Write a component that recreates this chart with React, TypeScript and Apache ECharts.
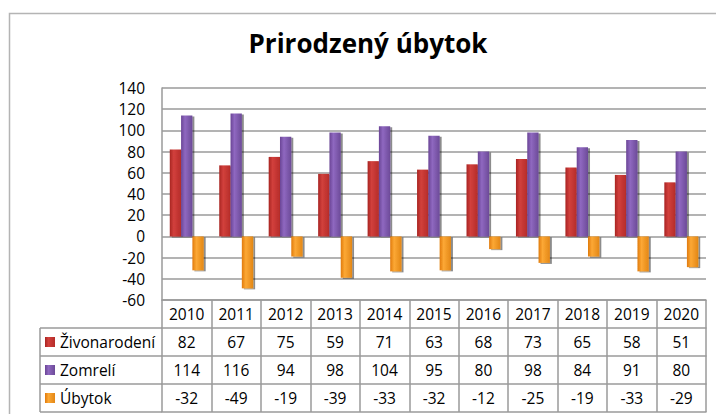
import React, { useEffect, useRef } from "react";
import * as echarts from "echarts";

const years = ["2010", "2011", "2012", "2013", "2014", "2015", "2016", "2017", "2018", "2019", "2020"];
const births = [82, 67, 75, 59, 71, 63, 68, 73, 65, 58, 51];
const deaths = [114, 116, 94, 98, 104, 95, 80, 98, 84, 91, 80];
const loss = [-32, -49, -19, -39, -33, -32, -12, -25, -19, -33, -29];
const seriesNames = ["Živonarodení", "Zomrelí", "Úbytok"];
const titleText = "Prirodzený úbytok";
const yMin = -60;
const yMax = 140;
const yStep = 20;

const FONT = "'Open Sans', 'Noto Sans', sans-serif";
const W = 716;
const H = 414;
const GRID_LEFT = 162;
const GRID_RIGHT = 10;
const GRID_TOP = 88;
const GRID_H = 212;
const ROW_H = 28;
const TABLE_LEFT = 40;
const LINE = "#9a9a9a";

const grad = (a: string, b: string, c: string) =>
  new echarts.graphic.LinearGradient(0, 0, 1, 0, [
    { offset: 0, color: a },
    { offset: 0.35, color: b },
    { offset: 1, color: c },
  ]);

const palettes = [
  ["#a82422", "#d2403c", "#b52c29"],
  ["#6a4596", "#8f68c0", "#6c4a98"],
  ["#e07a0c", "#fca835", "#e38716"],
];

export default function App() {
  const ref = useRef<HTMLDivElement>(null);
  useEffect(() => {
    if (!ref.current) return;
    const chart = echarts.init(ref.current, null, { renderer: "svg" });
    const rows = [births, deaths, loss];
    const gridBottom = GRID_TOP + GRID_H;

    const baseAxis = (offset: number, rowIdx: number | null) => ({
      type: "category",
      data: years,
      position: "bottom",
      offset,
      axisLine: { show: true, onZero: false, lineStyle: { color: LINE, width: 1.5 } },
      axisTick: { show: true, length: ROW_H, inside: false, lineStyle: { color: LINE, width: 1.5 } },
      axisLabel: {
        show: true,
        interval: 0,
        margin: 0,
        lineHeight: ROW_H,
        fontSize: 15.5,
        fontFamily: FONT,
        color: "#000",
        formatter: (v: string, i: number) => (rowIdx === null ? v : String(rows[rowIdx][i])),
      },
      splitLine: { show: false },
    });

    const xAxes: any[] = [baseAxis(0, null), baseAxis(ROW_H, 0), baseAxis(ROW_H * 2, 1), baseAxis(ROW_H * 3, 2)];
    xAxes.push({
      type: "category",
      data: years,
      position: "bottom",
      offset: ROW_H * 4,
      axisLine: { show: true, onZero: false, lineStyle: { color: LINE, width: 1.5 } },
      axisTick: { show: false },
      axisLabel: { show: false },
    });

    const graphics: any[] = [
      {
        type: "rect",
        shape: { x: 9.5, y: 13.5, width: 730, height: 430 },
        style: { fill: "none", stroke: "#b4b4b4", lineWidth: 1.5 },
        silent: true,
      },
    ];
    for (let r = 0; r < 3; r++) {
      const y0 = gridBottom + ROW_H * (r + 1);
      graphics.push({
        type: "line",
        shape: { x1: TABLE_LEFT, y1: y0, x2: GRID_LEFT, y2: y0 },
        style: { stroke: LINE, lineWidth: 1.5 },
      });
      graphics.push({
        type: "rect",
        shape: { x: TABLE_LEFT + 5, y: y0 + ROW_H / 2 - 5, width: 10, height: 10 },
        style: { fill: grad(palettes[r][0], palettes[r][1], palettes[r][2]) },
      });
      graphics.push({
        type: "text",
        x: TABLE_LEFT + 20,
        y: y0 + ROW_H / 2,
        style: {
          text: seriesNames[r],
          fontSize: 15.5,
          fontFamily: FONT,
          fill: "#000",
          textVerticalAlign: "middle",
          verticalAlign: "middle",
        },
      });
    }
    graphics.push({
      type: "line",
      shape: { x1: TABLE_LEFT, y1: gridBottom + ROW_H * 4, x2: GRID_LEFT, y2: gridBottom + ROW_H * 4 },
      style: { stroke: LINE, lineWidth: 1.5 },
    });
    graphics.push({
      type: "line",
      shape: { x1: TABLE_LEFT, y1: gridBottom + ROW_H, x2: TABLE_LEFT, y2: gridBottom + ROW_H * 4 },
      style: { stroke: LINE, lineWidth: 1.5 },
    });

    const series = rows.map((d, i) => ({
      name: seriesNames[i],
      type: "bar",
      xAxisIndex: 0,
      data: d,
      barWidth: 11.3,
      barGap: "0%",
      itemStyle: {
        color: grad(palettes[i][0], palettes[i][1], palettes[i][2]),
        shadowColor: "rgba(0,0,0,0.45)",
        shadowOffsetX: 2,
        shadowOffsetY: 1,
        shadowBlur: 1,
      },
    }));

    chart.setOption({
      animation: false,
      backgroundColor: "#fff",
      title: {
        text: titleText,
        left: 368,
        top: 30,
        padding: 0,
        textAlign: "center",
        textStyle: { fontSize: 26, fontWeight: "bold", fontFamily: FONT, color: "#000" },
      },
      grid: { left: GRID_LEFT, right: GRID_RIGHT, top: GRID_TOP, height: GRID_H },
      xAxis: xAxes,
      yAxis: {
        type: "value",
        min: yMin,
        max: yMax,
        interval: yStep,
        axisLine: { show: true, lineStyle: { color: LINE, width: 1.5 } },
        axisTick: { show: false },
        axisLabel: { fontSize: 15.5, fontFamily: FONT, color: "#000", margin: 17 },
        splitLine: { lineStyle: { color: LINE, width: 1.5 } },
      },
      series,
      graphic: graphics,
    });
    return () => chart.dispose();
  }, []);
  return (
    <div
      ref={ref}
      style={{ position: "fixed", left: 0, top: 0, width: W, height: H, background: "#fff" }}
    />
  );
}
